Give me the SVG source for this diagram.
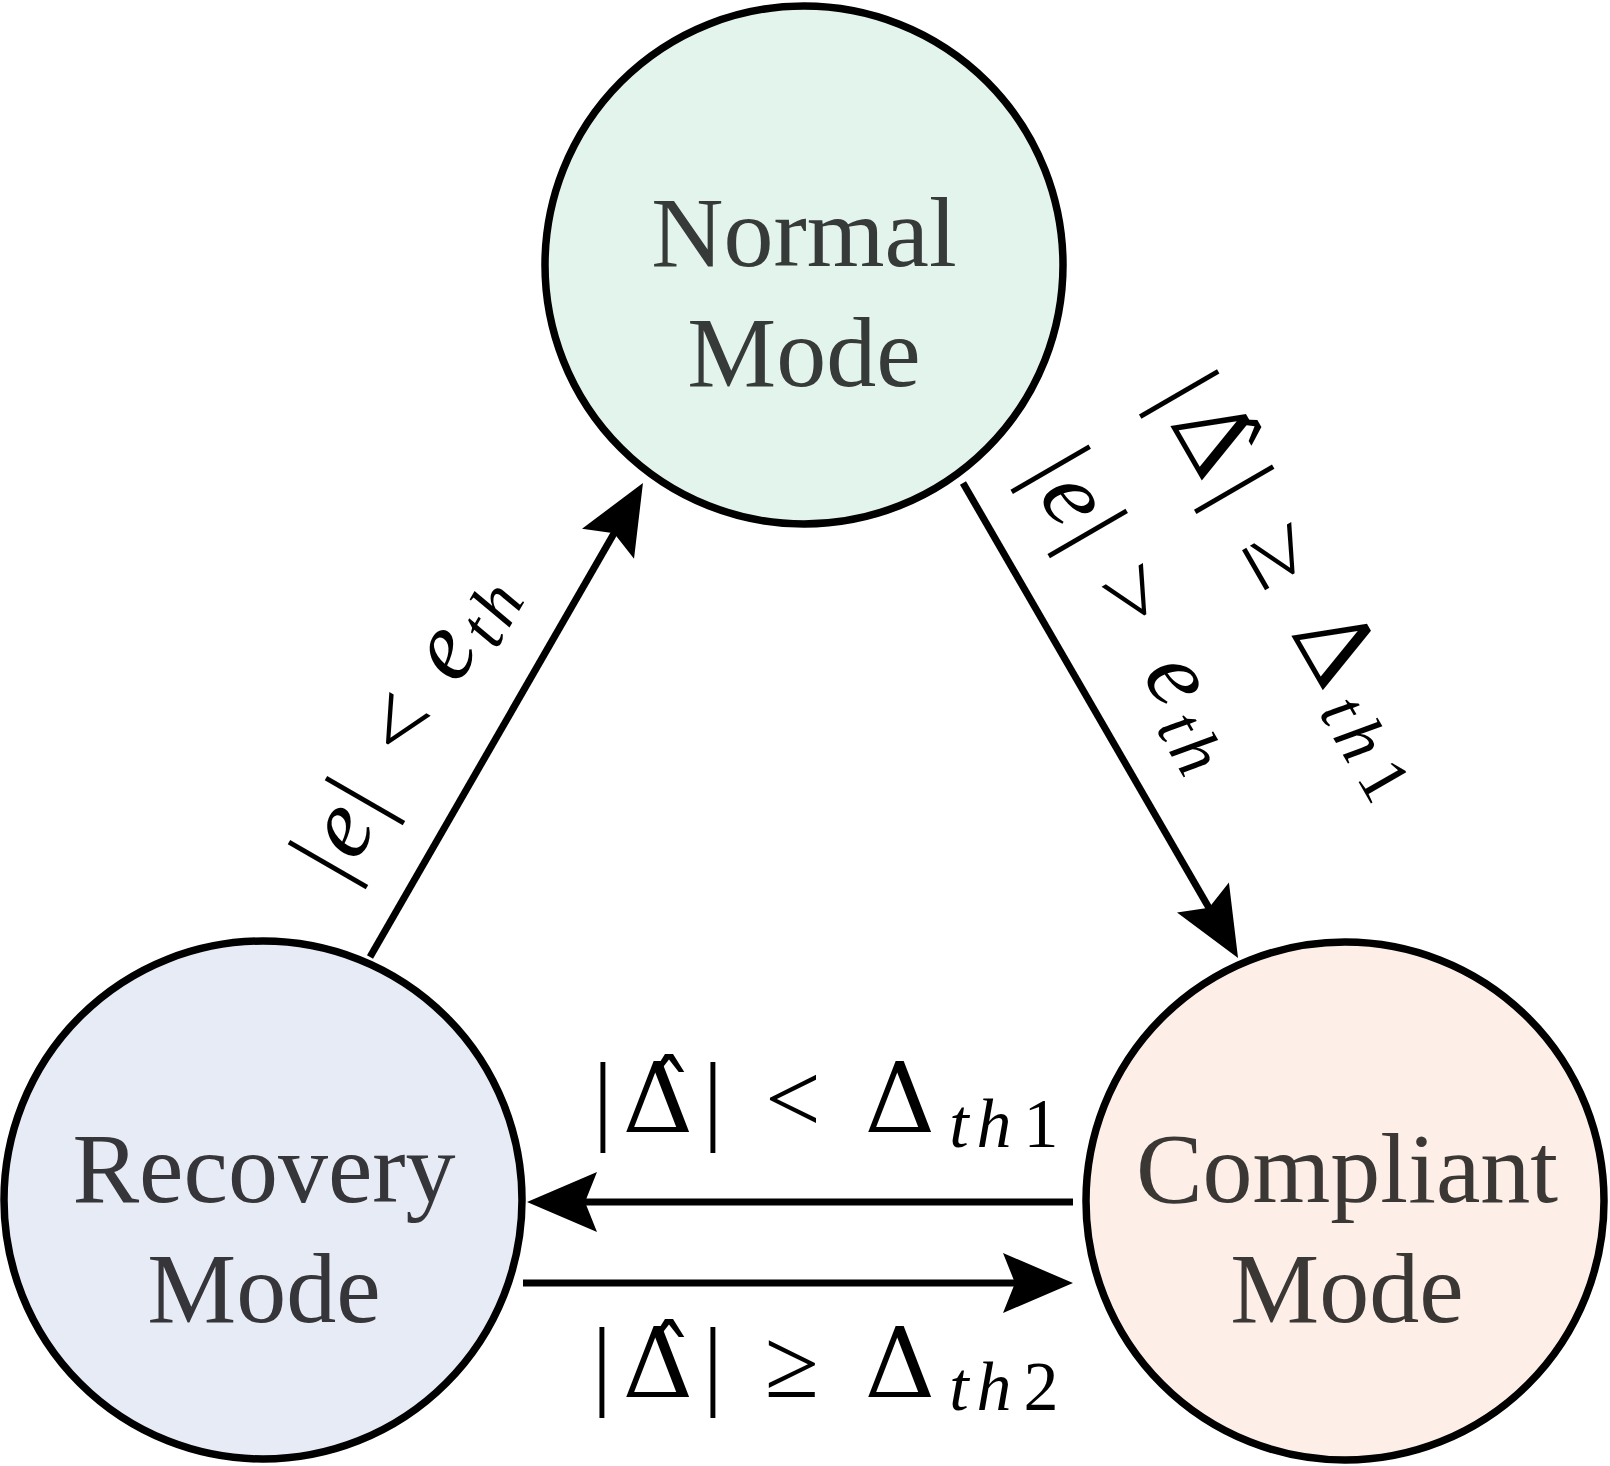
<svg xmlns="http://www.w3.org/2000/svg" width="1610" height="1466" viewBox="0 0 1610 1466">
  <style>
    .node { stroke: #000; stroke-width: 7.5; }
    .nlabel { font-family: "Liberation Serif", "Times New Roman", serif; font-size: 100px; text-anchor: middle; }
    .conn { stroke: #000; stroke-width: 7; fill: none; marker-end: url(#arr); }
    .math { font-family: "Liberation Serif", "Times New Roman", serif; font-size: 99px; fill: #000; text-anchor: middle; }
    .dl { font-family: "DejaVu Serif", serif; font-size: 98px; }
    .it { font-style: italic; }
    .sub { font-size: 70px; }
  </style>
  <defs>
    <marker id="arr" markerUnits="userSpaceOnUse" markerWidth="80" markerHeight="70" viewBox="-75 -35 80 70" refX="-40" refY="0" orient="auto" overflow="visible">
      <path d="M0,0 L-70,-30 L-58,0 L-70,30 Z" fill="#000"/>
    </marker>
  </defs>
  <rect width="1610" height="1466" fill="#fff"/>

  <g id="connectors">
    <path class="conn" d="M370,957 L623,517.7"/>
    <path class="conn" d="M963,483 L1218,923.4"/>
    <path class="conn" d="M1073,1202 L567,1202"/>
    <path class="conn" d="M523,1283 L1033,1283"/>
  </g>

  <g id="normal">
    <circle class="node" cx="804" cy="265" r="259" fill="#E3F4EC"/>
    <text class="nlabel" fill="#363a38"><tspan x="804" y="266">Normal</tspan><tspan x="804" y="386">Mode</tspan></text>
  </g>
  <g id="recovery">
    <circle class="node" cx="263" cy="1200" r="259" fill="#E7EBF5"/>
    <text class="nlabel" fill="#35353a"><tspan x="264" y="1202">Recovery</tspan><tspan x="264" y="1322">Mode</tspan></text>
  </g>
  <g id="compliant">
    <circle class="node" cx="1345" cy="1201" r="259" fill="#FDEFE8"/>
    <text class="nlabel" fill="#3a3734"><tspan x="1347" y="1202">Compliant</tspan><tspan x="1347" y="1322">Mode</tspan></text>
  </g>

  <g id="labels">
    <!-- Compliant -> Recovery -->
    <text class="math" y="1132"><tspan x="603">|</tspan><tspan class="dl" x="658">&#916;&#770;</tspan><tspan x="713">|</tspan><tspan x="750"> </tspan><tspan x="793">&lt;</tspan><tspan x="845"> </tspan><tspan class="dl" x="900">&#916;</tspan><tspan class="sub it" x="959" y="1147">t</tspan><tspan class="sub it" x="994" y="1147">h</tspan><tspan class="sub" x="1041" y="1147">1</tspan></text>
    <!-- Recovery -> Compliant -->
    <text class="math" y="1397"><tspan x="602">|</tspan><tspan class="dl" x="658">&#916;&#770;</tspan><tspan x="713">|</tspan><tspan x="750"> </tspan><tspan x="792">&#8805;</tspan><tspan x="845"> </tspan><tspan class="dl" x="900">&#916;</tspan><tspan class="sub it" x="959" y="1410">t</tspan><tspan class="sub it" x="994" y="1410">h</tspan><tspan class="sub" x="1041" y="1410">2</tspan></text>
    <!-- Recovery -> Normal -->
    <g transform="translate(370,957) rotate(-60)">
      <text class="math" y="-59"><tspan x="59">|</tspan><tspan class="it" x="96">e</tspan><tspan x="133">|</tspan><tspan x="172"> </tspan><tspan x="216">&lt;</tspan><tspan x="262"> </tspan><tspan class="it" x="301">e</tspan><tspan class="sub it" x="338" y="-44">t</tspan><tspan class="sub it" x="370" y="-44">h</tspan></text>
    </g>
    <!-- Normal -> Compliant -->
    <g transform="translate(963,483) rotate(60)">
      <text class="math" y="-208"><tspan x="31">|</tspan><tspan class="dl" x="86">&#916;&#770;</tspan><tspan x="141">|</tspan><tspan x="180"> </tspan><tspan x="221">&#8805;</tspan><tspan x="270"> </tspan><tspan class="dl" x="328">&#916;</tspan><tspan class="sub it" x="386" y="-193">t</tspan><tspan class="sub it" x="421" y="-193">h</tspan><tspan class="sub" x="468" y="-193">1</tspan></text>
      <text class="math" y="-59"><tspan x="32">|</tspan><tspan class="it" x="69">e</tspan><tspan x="106">|</tspan><tspan x="142"> </tspan><tspan x="182">&gt;</tspan><tspan x="230"> </tspan><tspan class="it" x="277">e</tspan><tspan class="sub it" x="318" y="-44">t</tspan><tspan class="sub it" x="351" y="-44">h</tspan></text>
    </g>
  </g>
</svg>
